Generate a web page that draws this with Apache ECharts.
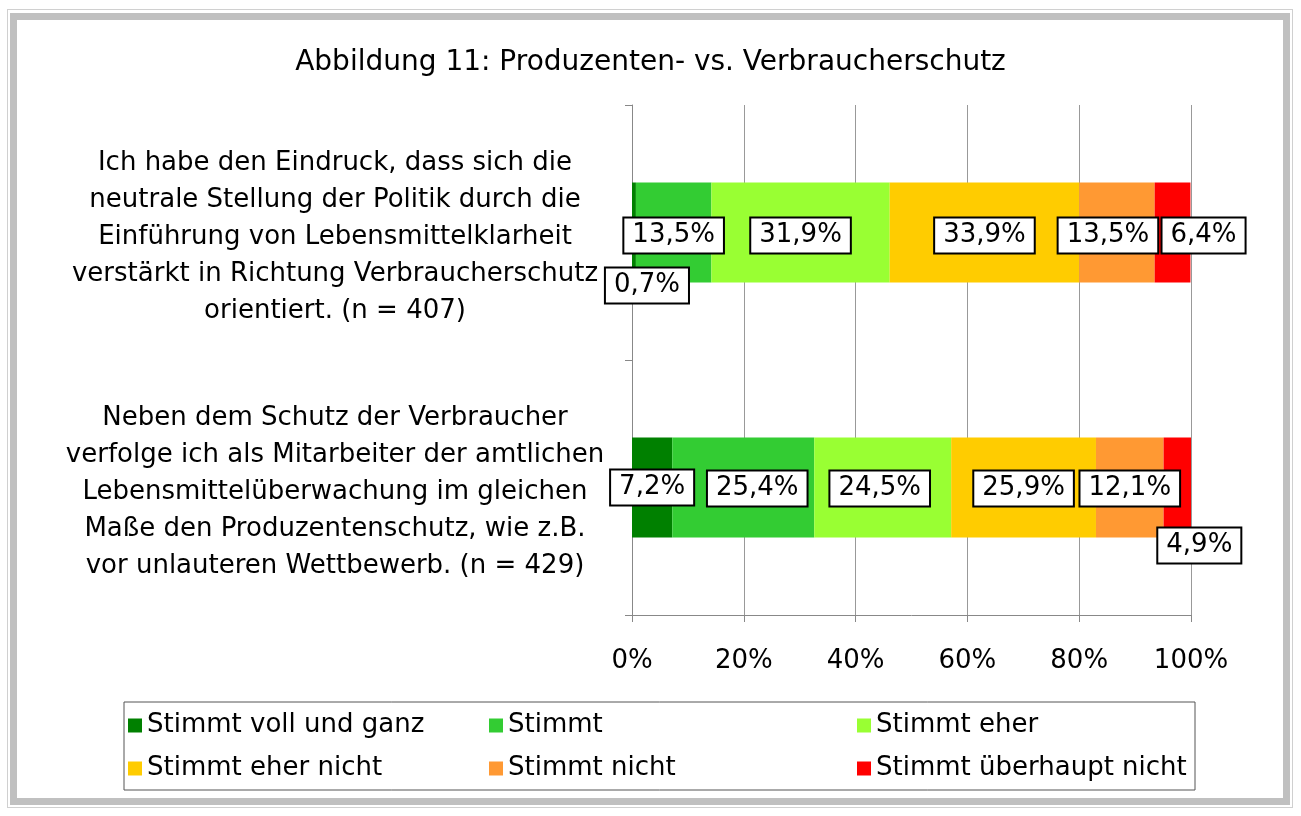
<!DOCTYPE html>
<html>
<head>
<meta charset="utf-8">
<script src="https://cdn.jsdelivr.net/npm/echarts@6/dist/echarts.min.js"></script>
<style>
    html, body { margin: 0; padding: 0; background: #fff; }
    #chart { width: 1301px; height: 816px; }
    .frameOuter { position: absolute; left: 7px; top: 9px; width: 1286px; height: 799px; border: 1px solid #d0d0d0; box-sizing: border-box; pointer-events: none; }
    .frameInner { position: absolute; left: 10px; top: 13px; width: 1280px; height: 792px; border: 7px solid #c0c0c0; box-sizing: border-box; pointer-events: none; }
</style>
</head>
<body>
<div id="chart"></div>
<div class="frameOuter"></div>
<div class="frameInner"></div>
<script>
// Produzenten- vs. Verbraucherschutz
var categories = [
    'Ich habe den Eindruck, dass sich die\nneutrale Stellung der Politik durch die\nEinführung von Lebensmittelklarheit\nverstärkt in Richtung Verbraucherschutz\norientiert. (n = 407)',
    'Neben dem Schutz der Verbraucher\nverfolge ich als Mitarbeiter der amtlichen\nLebensmittelüberwachung im gleichen\nMaße den Produzentenschutz, wie z.B.\nvor unlauteren Wettbewerb. (n = 429)'
];
var seriesNames = ['Stimmt voll und ganz', 'Stimmt', 'Stimmt eher', 'Stimmt eher nicht', 'Stimmt nicht', 'Stimmt überhaupt nicht'];
var vollUndGanz = [0.7, 7.2];
var stimmt = [13.5, 25.4];
var eher = [31.9, 24.5];
var eherNicht = [33.9, 25.9];
var nicht = [13.5, 12.1];
var ueberhauptNicht = [6.4, 4.9];
var xTicks = [0, 20, 40, 60, 80, 100];

var values = [vollUndGanz, stimmt, eher, eherNicht, nicht, ueberhauptNicht];
var colors = ['#008000', '#33cc33', '#99ff33', '#ffcc00', '#ff9933', '#ff0000'];
// label shifts (like Excel moves overlapping labels)
var labelShift = [
    [[13, 53], [0, 0]],
    [[0, 3], [14, 1]],
    [[0, 3], [-3, 1]],
    [[0, 3], [0, 1]],
    [[-9, 3], [0, 1]],
    [[31, 3], [22, 58]]
];
// legend column widths (text part)
var legendTextWidth = [342, 349, 320];

var FONT = 'DejaVu Sans';

function fmt(v) {
    return v.toFixed(1).replace('.', ',') + '%';
}

var myChart = echarts.init(document.getElementById('chart'));

var series = seriesNames.map(function (name, s) {
    return {
        name: name,
        type: 'bar',
        stack: 'all',
        barWidth: 100,
        itemStyle: { color: colors[s] },
        data: values[s].map(function (v, r) {
            return {
                value: v,
                label: { offset: labelShift[s][r] }
            };
        }),
        label: {
            show: true,
            position: 'inside',
            formatter: function (p) { return fmt(p.value); },
            fontFamily: FONT,
            fontSize: 26,
            color: '#000',
            backgroundColor: '#fff',
            borderColor: '#000',
            borderWidth: 2,
            padding: [5, 8, 3, 8]
        }
    };
});

var option = {
    animation: false,
    title: {
        text: 'Abbildung 11: Produzenten- vs. Verbraucherschutz',
        left: 'center',
        top: 44,
        textStyle: { fontFamily: FONT, fontSize: 28, fontWeight: 'normal', color: '#000' }
    },
    legend: {
        data: seriesNames.map(function (n, i) {
            return { name: n, textStyle: { width: legendTextWidth[i % 3] } };
        }),
        left: 128,
        top: 704,
        padding: 0,
        width: 1120,
        itemGap: 0,
        itemWidth: 14,
        itemHeight: 14,
        icon: 'rect',
        textStyle: { fontFamily: FONT, fontSize: 26, color: '#000', lineHeight: 43 }
    },
    graphic: [{
        type: 'rect',
        shape: { x: 124, y: 702, width: 1071, height: 88 },
        style: { fill: 'none', stroke: '#555', lineWidth: 1 }
    }],
    grid: { left: 632, right: 110, top: 105, bottom: 201 },
    xAxis: {
        type: 'value',
        min: xTicks[0],
        max: xTicks[xTicks.length - 1],
        interval: 20,
        axisLine: { show: true, lineStyle: { color: '#888' } },
        axisTick: { show: true, length: 7, lineStyle: { color: '#888' } },
        splitLine: { show: true, lineStyle: { color: '#999' } },
        axisLabel: {
            margin: 33,
            formatter: '{value}%',
            fontFamily: FONT,
            fontSize: 26,
            color: '#000'
        }
    },
    yAxis: {
        type: 'category',
        inverse: true,
        data: categories,
        axisLine: { show: true, lineStyle: { color: '#888' } },
        axisTick: { show: true, length: 7, lineStyle: { color: '#888' } },
        axisLabel: {
            margin: 297,
            align: 'center',
            color: '#000',
            // every line padded on top to nudge the block down a little
            formatter: function (v) {
                return v.split('\n').map(function (line) {
                    return '{t|' + line + '}';
                }).join('\n');
            },
            rich: {
                t: { fontFamily: FONT, fontSize: 26, lineHeight: 37, padding: [10, 0, 0, 0], color: '#000' }
            }
        }
    },
    series: series
};
myChart.setOption(option);
</script>
</body>
</html>
